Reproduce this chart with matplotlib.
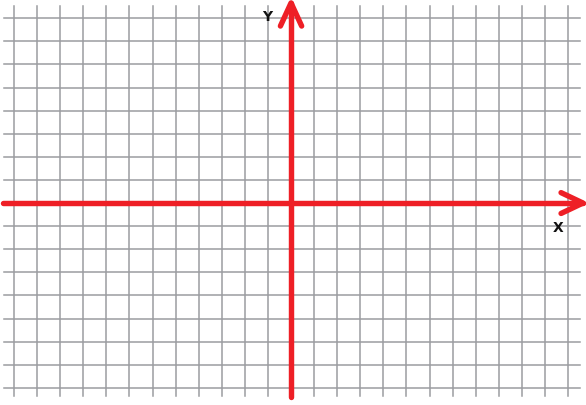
import matplotlib
matplotlib.use("Agg")
import matplotlib.pyplot as plt

# grid positions in grid units (origin at the centre cross)
grid_x = [-12, -11, -10, -9, -8, -7, -6, -5, -4, -3, -2, -1, 0,
          1, 2, 3, 4, 5, 6, 7, 8, 9, 10, 11, 12]
grid_y = [-8, -7, -6, -5, -4, -3, -2, -1, 0, 1, 2, 3, 4, 5, 6, 7, 8]

# axis arrows
x_axis = [-12.5, 12.65]
y_axis = [-8.4, 8.66]
axis_labels = ["X", "Y"]

red = "#ee1f26"
gray = "#9b9ca0"

fig = plt.figure(figsize=(5.86, 4.06), dpi=100)
ax = fig.add_axes([0, 0, 1, 1])
ax.set_xlim(-12.61, 12.78)
ax.set_ylim(-8.74, 8.83)
ax.axis("off")

# grid
for gx in grid_x:
    ax.plot([gx, gx], [-8.35, 8.53], color=gray, lw=1.1, zorder=1)
for gy in grid_y:
    ax.plot([-12.43, 12.52], [gy, gy], color=gray, lw=1.1, zorder=1)

# red axes
ax.plot(x_axis, [0, 0], color=red, lw=3.9, solid_capstyle="round", zorder=3)
ax.plot([0, 0], y_axis, color=red, lw=3.9, solid_capstyle="round", zorder=3)

# chevron arrow heads
tip = x_axis[1]
ax.plot([tip - 0.95, tip, tip - 0.95], [0.45, 0, -0.45], color=red, lw=3.9,
        solid_capstyle="round", solid_joinstyle="round", zorder=3)
tip = y_axis[1]
ax.plot([-0.46, 0, 0.46], [tip - 1.0, tip, tip - 1.0], color=red, lw=3.9,
        solid_capstyle="round", solid_joinstyle="round", zorder=3)

ax.text(11.57, -1.04, axis_labels[0], fontsize=10, fontweight="bold",
        ha="center", va="center", color="#111111")
ax.text(-1.04, 8.09, axis_labels[1], fontsize=10, fontweight="bold",
        ha="center", va="center", color="#111111")

fig.savefig("out.png", dpi=100)
